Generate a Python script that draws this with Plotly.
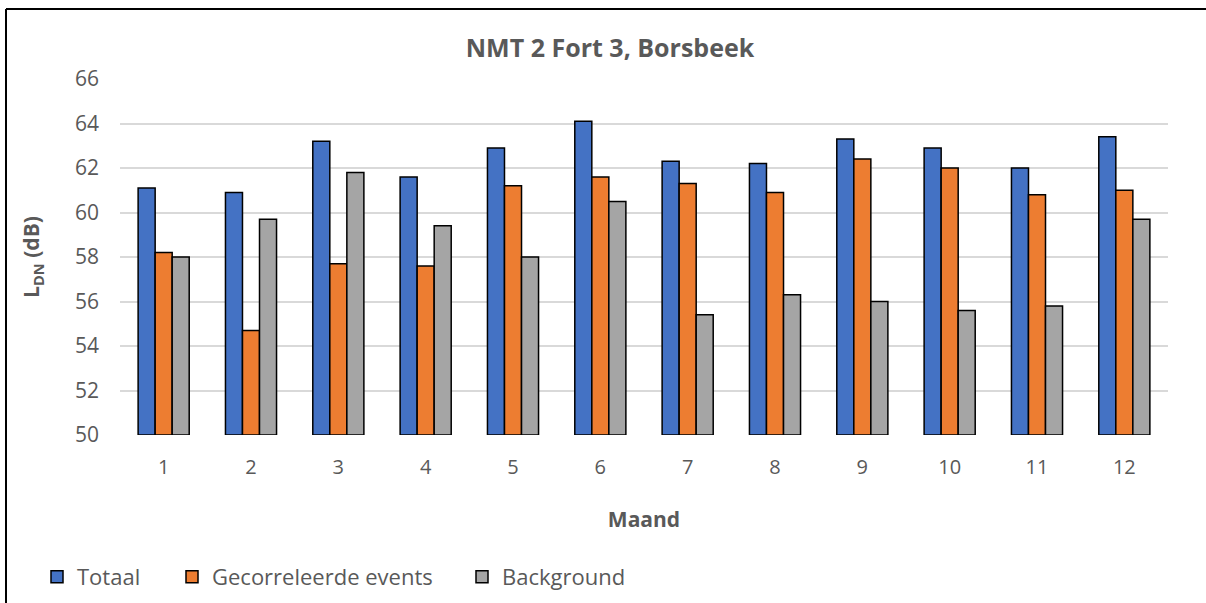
import plotly.graph_objects as go

# --- Data ---
maanden = ["1", "2", "3", "4", "5", "6", "7", "8", "9", "10", "11", "12"]
totaal = [61.1, 60.9, 63.2, 61.6, 62.9, 64.1, 62.3, 62.2, 63.3, 62.9, 62.0, 63.4]
gecorreleerd = [58.2, 54.7, 57.7, 57.6, 61.2, 61.6, 61.3, 60.9, 62.4, 62.0, 60.8, 61.0]
background = [58.0, 59.7, 61.8, 59.4, 58.0, 60.5, 55.4, 56.3, 56.0, 55.6, 55.8, 59.7]
y_ticks = [50, 52, 54, 56, 58, 60, 62, 64, 66]

W, H = 1206, 603
L, R, T, B = 120, 38, 79, 168
txt = "#595959"

# plot area px -> paper coords
def px(x):
    return (x - L) / (W - L - R)

def py(y):
    return (H - B - y) / (H - T - B)

fig = go.Figure()
# each series gets its own legend box so the entries sit where the reference has them
series = [("Totaal", totaal, "#4472c4", "legend", 37),
          ("Gecorreleerde events", gecorreleerd, "#ed7d31", "legend2", 172),
          ("Background", background, "#a5a5a5", "legend3", 462)]
for naam, waarden, kleur, lg, _ in series:
    fig.add_trace(go.Bar(
        x=maanden, y=[v - 50 for v in waarden], base=50, name=naam,
        marker=dict(color=kleur, line=dict(color="black", width=1.5)),
        legend=lg,
    ))

# outer frame (top + left only visible)
fig.add_shape(type="line", xref="paper", yref="paper",
              x0=px(6), x1=px(1206), y0=py(9), y1=py(9),
              line=dict(color="black", width=2))
fig.add_shape(type="line", xref="paper", yref="paper",
              x0=px(6), x1=px(6), y0=py(9), y1=py(603),
              line=dict(color="black", width=2))

legend_opts = {}
for naam, _, _, lg, xpos in series:
    legend_opts[lg] = dict(orientation="h", x=px(xpos), xanchor="left",
                           y=py(577), yanchor="middle", bgcolor="rgba(0,0,0,0)",
                           font=dict(family="Open Sans", size=22, color=txt),
                           itemwidth=30)

fig.update_layout(
    width=W, height=H,
    margin=dict(l=L, r=R, t=T, b=B, autoexpand=False),
    paper_bgcolor="white", plot_bgcolor="white",
    font=dict(family="Open Sans", size=20, color=txt),
    title=dict(text="<b>NMT 2 Fort 3, Borsbeek</b>", x=610 / W, xref="container",
               xanchor="center", y=1 - 48 / H, yref="container", yanchor="middle",
               font=dict(size=25, color=txt)),
    barmode="group", bargap=0.415, bargroupgap=0,
    xaxis=dict(title=dict(text="<b>Maand</b>", standoff=33,
                          font=dict(size=21, color=txt)),
               showgrid=False, showline=False, ticks="",
               ticklabelstandoff=18,
               tickfont=dict(size=20, color=txt)),
    yaxis=dict(title=dict(text="<b>L<sub>DN</sub> (dB)</b>", standoff=29,
                          font=dict(size=21, color=txt)),
               range=[50, 66], tickvals=y_ticks, showgrid=True,
               gridcolor="#d9d9d9", gridwidth=1.5, zeroline=False,
               showline=False, ticks="", ticklabelstandoff=20,
               tickfont=dict(size=21, color=txt)),
    showlegend=True,
    **legend_opts,
)

# the page's default body margin would shift the whole figure by 8px
fig.write_html("out.html", config={"displayModeBar": False},
               post_script="document.body.style.margin='0';")
